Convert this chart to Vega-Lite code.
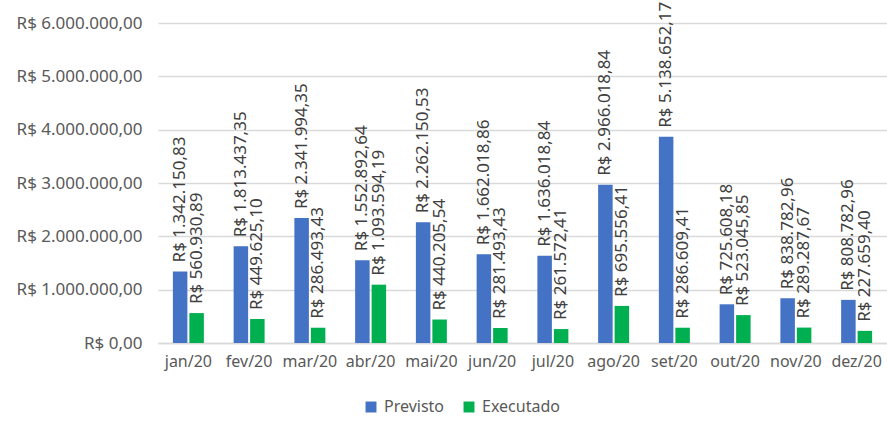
{
  "$schema": "https://vega.github.io/schema/vega-lite/v6.json",
  "width": 729,
  "height": 320,
  "autosize": {"type": "none"},
  "padding": {"left": 158, "top": 23, "right": 0, "bottom": 78},
  "config": {
    "locale": {"number": {"decimal": ",", "thousands": ".", "grouping": [3], "currency": ["R$ ", ""]}},
    "view": {"stroke": null},
    "font": "Noto Sans",
    "axis": {"labelFont": "Noto Sans", "labelColor": "#595959", "labelFontSize": 16}
  },
  "data": {
    "values": [
      {"mes": "jan/20", "serie": "Previsto", "valor": 1342150.83, "rotulo": "R$ 1.342.150,83"},
      {"mes": "fev/20", "serie": "Previsto", "valor": 1813437.35, "rotulo": "R$ 1.813.437,35"},
      {"mes": "mar/20", "serie": "Previsto", "valor": 2341994.35, "rotulo": "R$ 2.341.994,35"},
      {"mes": "abr/20", "serie": "Previsto", "valor": 1552892.64, "rotulo": "R$ 1.552.892,64"},
      {"mes": "mai/20", "serie": "Previsto", "valor": 2262150.53, "rotulo": "R$ 2.262.150,53"},
      {"mes": "jun/20", "serie": "Previsto", "valor": 1662018.86, "rotulo": "R$ 1.662.018,86"},
      {"mes": "jul/20", "serie": "Previsto", "valor": 1636018.84, "rotulo": "R$ 1.636.018,84"},
      {"mes": "ago/20", "serie": "Previsto", "valor": 2966018.84, "rotulo": "R$ 2.966.018,84"},
      {"mes": "set/20", "serie": "Previsto", "valor": 3868000, "rotulo": "R$ 5.138.652,17"},
      {"mes": "out/20", "serie": "Previsto", "valor": 725608.18, "rotulo": "R$ 725.608,18"},
      {"mes": "nov/20", "serie": "Previsto", "valor": 838782.96, "rotulo": "R$ 838.782,96"},
      {"mes": "dez/20", "serie": "Previsto", "valor": 808782.96, "rotulo": "R$ 808.782,96"},
      {"mes": "jan/20", "serie": "Executado", "valor": 560930.89, "rotulo": "R$ 560.930,89"},
      {"mes": "fev/20", "serie": "Executado", "valor": 449625.10, "rotulo": "R$ 449.625,10"},
      {"mes": "mar/20", "serie": "Executado", "valor": 286493.43, "rotulo": "R$ 286.493,43"},
      {"mes": "abr/20", "serie": "Executado", "valor": 1093594.19, "rotulo": "R$ 1.093.594,19"},
      {"mes": "mai/20", "serie": "Executado", "valor": 440205.54, "rotulo": "R$ 440.205,54"},
      {"mes": "jun/20", "serie": "Executado", "valor": 281493.43, "rotulo": "R$ 281.493,43"},
      {"mes": "jul/20", "serie": "Executado", "valor": 261572.41, "rotulo": "R$ 261.572,41"},
      {"mes": "ago/20", "serie": "Executado", "valor": 695556.41, "rotulo": "R$ 695.556,41"},
      {"mes": "set/20", "serie": "Executado", "valor": 286609.41, "rotulo": "R$ 286.609,41"},
      {"mes": "out/20", "serie": "Executado", "valor": 523045.85, "rotulo": "R$ 523.045,85"},
      {"mes": "nov/20", "serie": "Executado", "valor": 289287.67, "rotulo": "R$ 289.287,67"},
      {"mes": "dez/20", "serie": "Executado", "valor": 227659.40, "rotulo": "R$ 227.659,40"}
    ]
  },
  "encoding": {
    "x": {
      "field": "mes", "type": "nominal", "sort": null, "title": null,
      "scale": {"paddingInner": 0.49, "paddingOuter": 0.245},
      "axis": {"labelAngle": 0, "ticks": false, "domainColor": "#D9D9D9", "domainWidth": 1.3, "labelPadding": 10}
    },
    "xOffset": {"field": "serie", "type": "nominal", "sort": ["Previsto", "Executado"], "scale": {"paddingInner": 0.12}},
    "y": {
      "field": "valor", "type": "quantitative", "title": null,
      "scale": {"domain": [0, 6000000], "nice": false},
      "axis": {"values": [0, 1000000, 2000000, 3000000, 4000000, 5000000, 6000000], "format": "$,.2f", "domain": false, "ticks": false, "gridColor": "#D9D9D9", "gridWidth": 1.3, "labelPadding": 16, "labelFontSize": 17}
    }
  },
  "layer": [
    {
      "mark": {"type": "bar"},
      "encoding": {
        "color": {
          "field": "serie", "type": "nominal", "sort": ["Previsto", "Executado"],
          "scale": {"domain": ["Previsto", "Executado"], "range": ["#4472C4", "#00B050"]},
          "legend": {
            "title": null, "orient": "none", "direction": "horizontal",
            "legendX": 205, "legendY": 376, "symbolType": "square", "symbolSize": 120,
            "symbolStrokeWidth": 0, "labelFontSize": 16, "labelColor": "#595959", "labelFont": "Noto Sans",
            "columnPadding": 16, "labelOffset": 5
          }
        }
      }
    },
    {
      "mark": {"type": "text", "angle": 270, "align": "left", "baseline": "middle", "dx": 9, "fontSize": 17, "color": "#404040", "font": "Noto Sans"},
      "encoding": {"text": {"field": "rotulo"}}
    }
  ]
}
